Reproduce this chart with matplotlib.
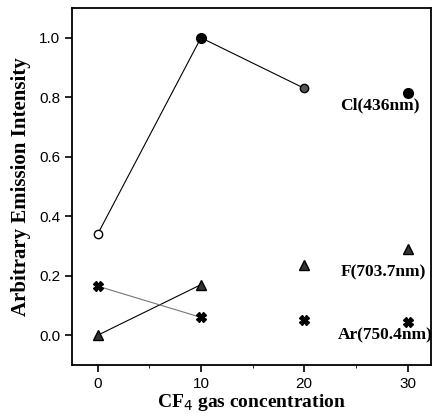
import numpy as np
import matplotlib
matplotlib.use("Agg")
import matplotlib.pyplot as plt

conc = [0, 10, 20, 30]
cl = [0.34, 1.0, 0.83, 0.815]
f = [0.0, 0.17, 0.235, 0.29]
ar = [0.165, 0.06, 0.05, 0.045]

serif = {"family": "Liberation Serif", "weight": "bold"}

fig = plt.figure(figsize=(4.33, 4.2), dpi=100)
ax = fig.add_axes([0.166, 0.131, 0.83, 0.85])

# lines only join the first three / two points, as in the original
ax.plot(conc[:3], cl[:3], "-", color="black", lw=0.8)
ax.plot(conc[:2], f[:2], "-", color="black", lw=0.8)
ax.plot(conc[:2], ar[:2], "-", color="#777777", lw=0.8)

ax.plot(conc[0], cl[0], "o", mfc="white", mec="black", ms=6, mew=1.0)
ax.plot(conc[1], cl[1], "o", color="black", ms=7)
ax.plot(conc[2], cl[2], "o", mfc="#555555", mec="black", ms=6)
ax.plot(conc[3], cl[3], "o", color="black", ms=7)
ax.plot(conc, f, "^", color="black", ms=7, mfc="#333333")
ax.plot(conc, ar, "X", color="black", ms=6.5)

ax.text(27.3, 0.772, "Cl(436nm)", ha="center", va="center", fontsize=12.5, **serif)
ax.text(27.7, 0.21, "F(703.7nm)", ha="center", va="center", fontsize=12.5, **serif)
ax.text(27.8, 0.0, "Ar(750.4nm)", ha="center", va="center", fontsize=12.5, **serif)

ax.set_xlim(-2.5, 32.3)
ax.set_ylim(-0.1, 1.1)
ax.set_xticks(conc)
ax.set_yticks([0.0, 0.2, 0.4, 0.6, 0.8, 1.0])
ax.set_yticklabels(["0.0", "0.2", "0.4", "0.6", "0.8", "1.0"])
ax.set_xticks([5, 15, 25], minor=True)
ax.tick_params(labelsize=11, direction="out", length=5, width=1.2)
for lab in ax.get_xticklabels() + ax.get_yticklabels():
    lab.set_family("Liberation Sans")
for s in ax.spines.values():
    s.set_linewidth(1.3)

ax.set_xlabel("CF$_4$ gas concentration", fontsize=14, labelpad=1, **serif)
ax.set_ylabel("Arbitrary Emission Intensity", fontsize=15, labelpad=6, **serif)

fig.savefig("out.png", dpi=100)
